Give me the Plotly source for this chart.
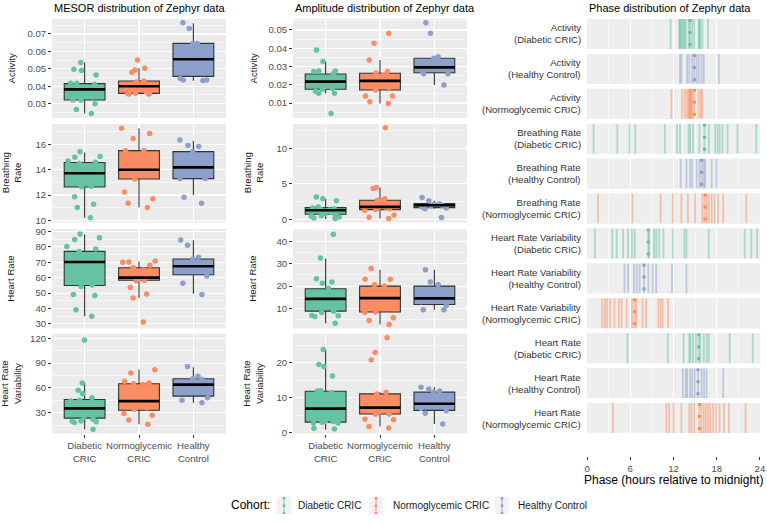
import plotly.graph_objects as go

W, H = 767, 525
FONT = "Liberation Sans, Arial, Helvetica, sans-serif"

# ---------------- data ----------------
cohorts = ["Diabetic CRIC", "Normoglycemic CRIC", "Healthy Control"]
cohort_ticks = ["Diabetic<br>CRIC", "Normoglycemic<br>CRIC", "Healthy<br>Control"]
cohort_colors = ["#66C2A5", "#FC8D62", "#8DA0CB"]
cohort_rgba = ["rgba(102,194,165,0.5)", "rgba(252,141,98,0.5)", "rgba(141,160,203,0.5)"]
metric_labels = ["Activity", "Breathing<br>Rate", "Heart Rate", "Heart Rate<br>Variability"]

# box stats per cohort: [lower whisker, q1, median, q3, upper whisker]
mesor_activity_box = [[0.0244, 0.0321, 0.0382, 0.0415, 0.0537],
                      [0.0355, 0.0359, 0.0400, 0.0430, 0.0503],
                      [0.0432, 0.0457, 0.0555, 0.0646, 0.0761]]
mesor_activity_pts = [[0.0537, 0.0497, 0.0490, 0.0465, 0.0417, 0.0417, 0.0412, 0.0394, 0.0385, 0.0380,
                       0.0378, 0.0369, 0.0360, 0.0340, 0.0321, 0.0321, 0.0300, 0.0267, 0.0244],
                      [0.0551, 0.0503, 0.0493, 0.0480, 0.0430, 0.0425, 0.0410, 0.0400, 0.0400, 0.0395,
                       0.0380, 0.0370, 0.0360, 0.0359, 0.0357, 0.0356, 0.0355],
                      [0.0765, 0.0731, 0.0646, 0.0646, 0.0565, 0.0547, 0.0445, 0.0436, 0.0436, 0.0433]]

mesor_breathing_box = [[10.2, 12.64, 13.72, 14.58, 15.37],
                       [11.0, 13.27, 14.0, 15.52, 17.3],
                       [12.0, 13.3, 14.19, 15.44, 16.28]]
mesor_breathing_pts = [[15.42, 15.05, 15.0, 14.7, 14.6, 14.5, 14.2, 13.9, 13.7, 13.5, 13.0, 12.7, 12.65,
                        11.86, 11.26, 11.0, 10.2],
                       [17.3, 16.88, 16.49, 15.52, 15.5, 15.0, 14.2, 14.0, 13.8, 13.27, 12.23, 11.7, 11.34, 11.0],
                       [16.36, 15.92, 15.84, 15.44, 14.3, 14.19, 13.3, 13.3, 11.83, 11.34]]

mesor_hr_box = [[34.9, 54.9, 70.2, 77.1, 88.0],
                [46.8, 58.3, 60.0, 66.4, 70.5],
                [49.5, 61.9, 67.4, 72.1, 84.3]]
mesor_hr_pts = [[88.4, 86.0, 84.8, 80.3, 78.6, 77.0, 72.0, 70.2, 70.0, 66.0, 60.0, 55.2, 54.3, 49.0, 48.4, 39.1, 34.9],
                [70.8, 70.2, 70.0, 68.0, 66.4, 65.0, 63.0, 61.0, 60.0, 59.0, 58.3, 58.0, 53.7, 49.4, 46.8, 31.3],
                [84.5, 81.0, 73.3, 72.0, 68.0, 67.4, 66.0, 61.1, 56.4, 49.0]]

mesor_hrv_box = [[10.0, 23.4, 35.2, 46.0, 66.0],
                 [16.0, 33.0, 44.0, 65.0, 82.0],
                 [42.0, 50.0, 64.0, 71.0, 85.0]]
mesor_hrv_pts = [[118, 66, 57, 53, 48, 45, 44, 40, 37, 35, 35, 34, 30, 25, 22, 20, 19.5, 19, 18, 10],
                 [82, 78, 68, 66, 65, 64, 47, 45, 44, 43, 36, 34, 29, 27, 21, 16],
                 [86, 74, 71, 70, 66, 63, 48, 45, 42]]

amp_activity_box = [[0.0153, 0.0175, 0.0217, 0.0259, 0.0327],
                    [0.0098, 0.0171, 0.0221, 0.0263, 0.0336],
                    [0.0199, 0.0266, 0.0295, 0.0345, 0.0354]]
amp_activity_pts = [[0.0390, 0.0327, 0.0275, 0.0275, 0.0272, 0.0260, 0.0240, 0.0220, 0.0217, 0.0210,
                     0.0200, 0.0190, 0.0180, 0.0175, 0.0165, 0.0153, 0.0153, 0.0043],
                    [0.0482, 0.0427, 0.0336, 0.0272, 0.0265, 0.0250, 0.0225, 0.0221, 0.0220, 0.0205,
                     0.0185, 0.0171, 0.0138, 0.0138, 0.0107, 0.0098],
                    [0.0540, 0.0482, 0.0354, 0.0345, 0.0300, 0.0290, 0.0270, 0.0260, 0.0260, 0.0199]]

amp_breathing_box = [[0.05, 0.71, 1.27, 1.65, 2.9],
                     [0.1, 1.37, 1.75, 2.69, 4.48],
                     [1.5, 1.65, 1.98, 2.22, 2.6]]
amp_breathing_pts = [[3.16, 2.9, 2.6, 1.75, 1.6, 1.5, 1.4, 1.3, 1.27, 1.2, 1.0, 0.8, 0.7, 0.5, 0.42, 0.33, 0.2, 0.1],
                     [12.9, 4.48, 4.34, 2.9, 2.7, 2.6, 2.2, 2.0, 1.75, 1.7, 1.5, 1.37, 1.27, 0.6, 0.3, 0.1],
                     [3.07, 2.6, 2.2, 2.1, 2.0, 1.9, 1.75, 1.6, 1.5, 0.24]]

amp_hr_box = [[3.4, 8.8, 14.3, 18.8, 32.2],
              [2.8, 8.4, 14.6, 20.0, 27.3],
              [9.4, 11.8, 14.5, 20.0, 27.3]]
amp_hr_pts = [[43.1, 32.5, 23.3, 21.8, 21.3, 19.0, 16.0, 14.3, 13.0, 11.0, 8.8, 8.2, 6.9, 6.7, 6.4, 3.4],
              [27.8, 23.0, 23.0, 20.6, 20.0, 17.0, 15.0, 14.6, 13.0, 11.0, 8.4, 8.2, 5.8, 4.6, 2.8],
              [27.3, 21.8, 20.7, 17.0, 15.1, 14.5, 13.0, 11.3, 9.4, 9.4]]

amp_hrv_box = [[0.9, 3.06, 6.9, 11.87, 23.8],
               [1.8, 5.36, 7.18, 11.1, 11.6],
               [2.5, 6.4, 8.3, 11.6, 13.0]]
amp_hrv_pts = [[23.8, 19.5, 18.9, 16.2, 12.0, 11.9, 11.5, 8.0, 6.9, 6.6, 6.0, 4.5, 3.3, 3.25, 3.0, 2.8, 2.8, 1.3, 1.05],
               [27.1, 22.9, 20.8, 11.6, 11.1, 9.0, 7.5, 7.18, 6.6, 6.0, 5.4, 5.3, 3.9, 3.7, 1.8, 1.34],
               [13.0, 12.5, 11.9, 11.6, 8.5, 8.3, 7.0, 6.3, 5.6, 2.5]]

# phase (hours relative to midnight)
phase_labels = ["Activity<br>(Diabetic CRIC)", "Activity<br>(Healthy Control)", "Activity<br>(Normoglycemic CRIC)",
                "Breathing Rate<br>(Diabetic CRIC)", "Breathing Rate<br>(Healthy Control)",
                "Breathing Rate<br>(Normoglycemic CRIC)",
                "Heart Rate Variability<br>(Diabetic CRIC)", "Heart Rate Variability<br>(Healthy Control)",
                "Heart Rate Variability<br>(Normoglycemic CRIC)",
                "Heart Rate<br>(Diabetic CRIC)", "Heart Rate<br>(Healthy Control)", "Heart Rate<br>(Normoglycemic CRIC)"]
phase_cohort = [0, 2, 1, 0, 2, 1, 0, 2, 1, 0, 2, 1]
phase_activity_diabetic = [11.6, 12.8, 12.9, 13.0, 13.2, 13.4, 13.5, 13.7, 14.1, 14.3, 14.6, 14.9, 15.5, 15.6, 15.7, 16.0, 16.8]
phase_activity_healthy = [12.9, 13.1, 13.9, 14.2, 14.6, 14.9, 15.2, 15.5, 15.9, 16.2, 18.3]
phase_activity_normo = [11.7, 13.2, 13.6, 13.9, 14.1, 14.2, 14.3, 14.4, 14.5, 14.6, 14.9, 15.5, 15.8, 16.0]
phase_breathing_diabetic = [0.9, 4.2, 5.9, 6.7, 10.8, 12.5, 12.9, 14.1, 14.3, 14.7, 15.6, 16.3, 16.9, 17.8, 18.1,
                            18.4, 18.8, 19.5, 20.9, 23.5]
phase_breathing_healthy = [13.0, 13.8, 14.3, 14.6, 15.2, 15.6, 15.9, 16.2, 16.4, 17.3, 17.96]
phase_breathing_normo = [1.5, 6.3, 10.2, 11.9, 13.1, 14.0, 15.0, 16.0, 16.3, 16.6, 16.9, 17.3, 17.7, 18.2, 18.9, 22.1]
phase_hrv_diabetic = [1.1, 3.5, 4.1, 5.0, 5.7, 6.2, 6.6, 8.5, 8.6, 9.3, 9.6, 10.0, 10.6, 11.9, 13.5, 13.8, 16.9,
                      21.9, 22.8, 23.6]
phase_hrv_healthy = [5.2, 5.7, 6.5, 6.9, 7.3, 7.9, 8.5, 9.1, 9.6, 11.8, 13.8]
phase_hrv_normo = [2.1, 2.5, 2.8, 3.2, 3.8, 4.4, 4.8, 5.5, 6.25, 6.6, 6.85, 7.7, 8.2, 9.9, 10.2, 10.5, 11.25]
phase_hr_diabetic = [5.6, 11.2, 13.4, 14.2, 14.35, 14.7, 15.1, 15.5, 15.7, 16.2, 16.6, 16.9, 19.8, 23.0]
phase_hr_healthy = [13.3, 13.7, 13.9, 14.3, 14.6, 14.95, 15.4, 15.9, 16.25, 16.6, 18.9]
phase_hr_normo = [3.6, 11.0, 11.4, 12.0, 13.1, 14.2, 14.5, 14.9, 15.6, 15.9, 16.2, 16.5, 16.8, 17.1, 17.5, 17.9,
                  18.4, 19.0, 19.7, 22.0]
phase_mean = [14.3, 14.9, 14.9, 16.3, 15.9, 16.4, 8.5, 7.9, 6.6, 15.5, 15.4, 15.6]
phase_ticks = [0, 6, 12, 18, 24]

phase_values = [phase_activity_diabetic, phase_activity_healthy, phase_activity_normo,
                phase_breathing_diabetic, phase_breathing_healthy, phase_breathing_normo,
                phase_hrv_diabetic, phase_hrv_healthy, phase_hrv_normo,
                phase_hr_diabetic, phase_hr_healthy, phase_hr_normo]

# ---------------- layout helpers ----------------
def ydom(top, bottom):
    return [1 - bottom / H, 1 - top / H]


def xdom(left, right):
    return [left / W, right / W]


def names(n):
    s = "" if n == 1 else str(n)
    return "x" + s, "y" + s, "xaxis" + s, "yaxis" + s


COL_X = [(52, 226), (293, 467)]
ROW_Y = [(19, 118), (124, 222.5), (229, 328.5), (334, 433.5)]
BOX_W = 0.75

panels = [
    (mesor_activity_box, mesor_activity_pts, [0.0218, 0.0786], 0.01, ".2f"),
    (mesor_breathing_box, mesor_breathing_pts, [9.82, 17.63], 2, ""),
    (mesor_hr_box, mesor_hr_pts, [27.0, 91.6], 10, ""),
    (mesor_hrv_box, mesor_hrv_pts, [4.8, 125.2], 30, ""),
    (amp_activity_box, amp_activity_pts, [0.0018, 0.056], 0.01, ".2f"),
    (amp_breathing_box, amp_breathing_pts, [-0.45, 13.44], 5, ""),
    (amp_hr_box, amp_hr_pts, [1.05, 45.5], 10, ""),
    (amp_hrv_box, amp_hrv_pts, [-0.2, 28.2], 10, ""),
]

fig = go.Figure()
axes = {}
annotations = []
shapes = []

tickfont = dict(family=FONT, size=9.6, color="#4D4D4D")

for k, (box, pts, yr, dt, fmt) in enumerate(panels):
    col, row = divmod(k, 4)
    xa, ya, xk, yk = names(k + 1)
    for i in range(3):
        lf, q1, med, q3, uf = box[i]
        fig.add_trace(go.Box(x=[i], q1=[q1], median=[med], q3=[q3], lowerfence=[lf], upperfence=[uf],
                             width=BOX_W, fillcolor=cohort_colors[i], boxpoints=False, whiskerwidth=0,
                             line=dict(color="#333333", width=1.1), xaxis=xa, yaxis=ya,
                             hoverinfo="skip", showlegend=False))
    for i in range(3):
        med = box[i][2]
        fig.add_trace(go.Scatter(x=[i - BOX_W / 2, i + BOX_W / 2], y=[med, med], mode="lines",
                                 line=dict(color="black", width=2.6), xaxis=xa, yaxis=ya,
                                 hoverinfo="skip", showlegend=False))
    for i in range(3):
        fig.add_trace(go.Box(x=[i] * len(pts[i]), y=pts[i], boxpoints="all", jitter=0.9, pointpos=0,
                             width=BOX_W, fillcolor="rgba(0,0,0,0)", whiskerwidth=0,
                             line=dict(color="rgba(0,0,0,0)", width=0),
                             marker=dict(color=cohort_colors[i], size=5.5, line=dict(width=0)),
                             xaxis=xa, yaxis=ya, hoverinfo="skip", showlegend=False))
    bottom = row == 3
    axes[xk] = dict(domain=xdom(*COL_X[col]), range=[-0.6, 2.6], anchor=ya, automargin=False,
                    tickmode="array", tickvals=[0, 1, 2], ticktext=cohort_ticks,
                    showticklabels=bottom, ticks="outside" if bottom else "", ticklen=3,
                    tickcolor="#333333", tickwidth=1, tickfont=tickfont,
                    showgrid=True, gridcolor="white", gridwidth=1.1, zeroline=False, showline=False)
    axes[yk] = dict(domain=ydom(*ROW_Y[row]), range=yr, anchor=xa, automargin=False,
                    tickmode="linear", tick0=0, dtick=dt,
                    tickformat=fmt, ticks="outside", ticklen=3, tickcolor="#333333", tickwidth=1,
                    tickfont=tickfont, showgrid=True, gridcolor="white", gridwidth=1.1, zeroline=False,
                    showline=False,
                    minor=dict(tick0=0, dtick=dt / 2, showgrid=True, gridcolor="white", gridwidth=0.5, ticks=""))
    # facet strip label
    y0, y1 = ROW_Y[row]
    annotations.append(dict(text=metric_labels[row], x=(11 if col == 0 else 253) / W, y=1 - (y0 + y1) / 2 / H,
                            xref="paper", yref="paper", textangle=-90, showarrow=False,
                            xanchor="center", yanchor="middle",
                            font=dict(family=FONT, size=9.6, color="#1A1A1A")))

# ---------------- phase panel ----------------
RIGHT_X = (587, 760)
ROW_H = (414 - 11 * 5) / 12.0
for j, vals in enumerate(phase_values):
    n = 9 + j
    xa, ya, xk, yk = names(n)
    c = phase_cohort[j]
    for v in vals:
        fig.add_trace(go.Scatter(x=[v, v], y=[0, 1], mode="lines",
                                 line=dict(color=cohort_rgba[c], width=1.8),
                                 xaxis=xa, yaxis=ya, hoverinfo="skip", showlegend=False))
    m = phase_mean[j]
    fig.add_trace(go.Scatter(x=[m, m], y=[1, 0], mode="lines",
                             line=dict(color=cohort_colors[c], width=3.2, dash="3px,9px"),
                             xaxis=xa, yaxis=ya, hoverinfo="skip", showlegend=False))
    top = 19 + j * (ROW_H + 5)
    bot = top + ROW_H
    last = j == 11
    xax = dict(domain=xdom(*RIGHT_X), range=[-0.01, 24.01], tickmode="array", tickvals=phase_ticks,
               automargin=False,
               showticklabels=last, ticks="outside" if last else "", ticklen=3, tickcolor="#333333",
               tickwidth=1, tickfont=tickfont, showgrid=True, gridcolor="white", gridwidth=1.1,
               zeroline=False, showline=False,
               minor=dict(tickmode="array", tickvals=[3, 9, 15, 21], showgrid=True, gridcolor="white",
                          gridwidth=0.5, ticks=""))
    if last:
        xax.update(anchor="free", position=1 - 456 / H)
    else:
        xax.update(anchor=ya)
    axes[xk] = xax
    axes[yk] = dict(domain=ydom(top, bot), range=[0, 1], anchor=xa, showgrid=False, zeroline=False,
                    automargin=False, showticklabels=False, ticks="", showline=False)
    shapes.append(dict(type="rect", xref=xa + " domain", yref=ya + " domain", x0=0, x1=1, y0=0, y1=1,
                       fillcolor="#EEEEEE", line=dict(width=0), layer="below"))
    annotations.append(dict(text=phase_labels[j], x=583 / W, y=1 - (top + bot) / 2 / H, xref="paper",
                            yref="paper", showarrow=False, xanchor="right", yanchor="middle", align="right",
                            font=dict(family=FONT, size=9.6, color="#333333")))

# ---------------- titles ----------------
for text, left in [("MESOR distribution of Zephyr data", 52), ("Amplitude distribution of Zephyr data", 293),
                   ("Phase distribution of Zephyr data", 587)]:
    annotations.append(dict(text=text, x=left / W, y=1 - 8 / H, xref="paper", yref="paper", showarrow=False,
                            xanchor="left", yanchor="middle", font=dict(family=FONT, size=11, color="black")))

annotations.append(dict(text="Phase (hours relative to midnight)", x=673 / W, y=1 - 480 / H, xref="paper",
                        yref="paper", showarrow=False, xanchor="center", yanchor="middle",
                        font=dict(family=FONT, size=12, color="black")))

# ---------------- legend ----------------
annotations.append(dict(text="Cohort:", x=229 / W, y=1 - 505 / H, xref="paper", yref="paper", showarrow=False,
                        xanchor="left", yanchor="middle", font=dict(family=FONT, size=12, color="black")))
key_centers = [284, 376, 502]
text_left = [296, 391, 516]
for i in range(3):
    cx = key_centers[i]
    shapes.append(dict(type="rect", xref="paper", yref="paper", x0=(cx - 7) / W, x1=(cx + 7) / W,
                       y0=1 - 514 / H, y1=1 - 497 / H, fillcolor="#F2F2F2", line=dict(width=0)))
    shapes.append(dict(type="line", xref="paper", yref="paper", x0=cx / W, x1=cx / W,
                       y0=1 - 514 / H, y1=1 - 497 / H, line=dict(color=cohort_rgba[i], width=1.8)))
    shapes.append(dict(type="line", xref="paper", yref="paper", x0=cx / W, x1=cx / W,
                       y0=1 - 497 / H, y1=1 - 514 / H, line=dict(color=cohort_colors[i], width=2.6,
                                                                 dash="2.5px,5px")))
    annotations.append(dict(text=cohorts[i], x=text_left[i] / W, y=1 - 505 / H, xref="paper", yref="paper",
                            showarrow=False, xanchor="left", yanchor="middle",
                            font=dict(family=FONT, size=10, color="#1A1A1A")))

fig.update_layout(width=W, height=H, margin=dict(l=0, r=0, t=0, b=0, pad=0, autoexpand=False),
                  paper_bgcolor="white",
                  plot_bgcolor="#EBEBEB", showlegend=False, boxmode="overlay",
                  font=dict(family=FONT, size=10, color="#4D4D4D"),
                  annotations=annotations, shapes=shapes, **axes)

fig.write_html("out.html", config={"displayModeBar": False, "staticPlot": True},
               post_script="document.body.style.margin='0px';document.body.style.padding='0px';"
                           "document.body.style.overflow='hidden';")
